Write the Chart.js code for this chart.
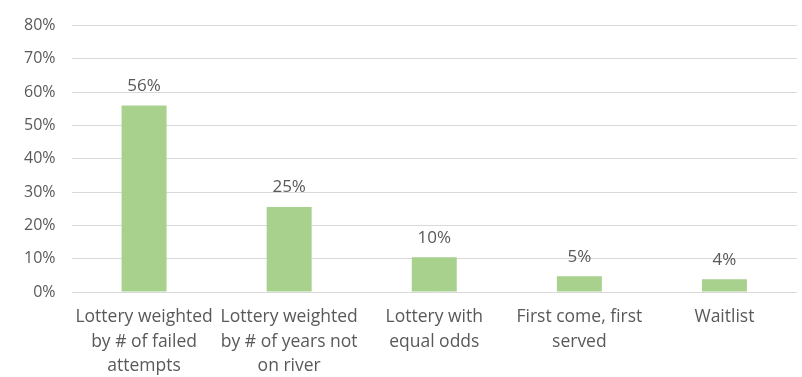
<!DOCTYPE html>
<html>
<head>
<meta charset="utf-8">
<script src="https://cdn.jsdelivr.net/npm/chart.js@4"></script>
<style>
html,body{margin:0;padding:0;background:#fff;}
#wrap{width:802px;height:377px;}
</style>
</head>
<body>
<div id="wrap"><canvas id="c" width="802" height="377"></canvas></div>
<script>
const categories = [
  ["Lottery weighted", "by # of failed", "attempts"],
  ["Lottery weighted", "by # of years not", "on river"],
  ["Lottery with", "equal odds"],
  ["First come, first", "served"],
  ["Waitlist"]
];
const values = [56, 25.5, 10.4, 4.7, 3.8];
const valueLabels = ["56%", "25%", "10%", "5%", "4%"];
const yTicks = [0, 10, 20, 30, 40, 50, 60, 70, 80];

const FONT = "'Open Sans', 'Liberation Sans', sans-serif";
const TXT = "#595959";

const dataLabelPlugin = {
  id: 'dataLabels',
  afterDatasetsDraw(chart) {
    const ctx = chart.ctx;
    const meta = chart.getDatasetMeta(0);
    ctx.save();
    ctx.font = "17px " + FONT;
    ctx.fillStyle = TXT;
    ctx.textAlign = 'center';
    ctx.textBaseline = 'bottom';
    meta.data.forEach((bar, i) => {
      ctx.fillText(valueLabels[i], bar.x, bar.y - 11);
    });
    ctx.restore();
  }
};

new Chart(document.getElementById('c'), {
  type: 'bar',
  data: {
    labels: categories,
    datasets: [{
      data: values,
      backgroundColor: '#a9d18e',
      borderWidth: 0,
      categoryPercentage: 1.0,
      barPercentage: 0.31
    }]
  },
  options: {
    responsive: false,
    animation: false,
    layout: { padding: { left: 8, right: 5, top: 5, bottom: 0 } },
    plugins: { legend: { display: false }, tooltip: { enabled: false } },
    scales: {
      x: {
        grid: { display: false },
        border: { display: false },
        afterFit(scale) { scale.height = 85; },
        ticks: {
          color: TXT,
          font: { family: FONT, size: 17.5, lineHeight: 1.4 },
          maxRotation: 0,
          autoSkip: false,
          padding: 5
        }
      },
      y: {
        min: 0,
        max: 80,
        afterBuildTicks(axis) { axis.ticks = yTicks.map(v => ({ value: v })); },
        grid: { color: '#d9d9d9', lineWidth: 1, drawTicks: false },
        border: { display: false },
        ticks: {
          color: TXT,
          font: { family: FONT, size: 16 },
          padding: 16,
          callback: v => v + '%'
        }
      }
    }
  },
  plugins: [dataLabelPlugin]
});
</script>
</body>
</html>
